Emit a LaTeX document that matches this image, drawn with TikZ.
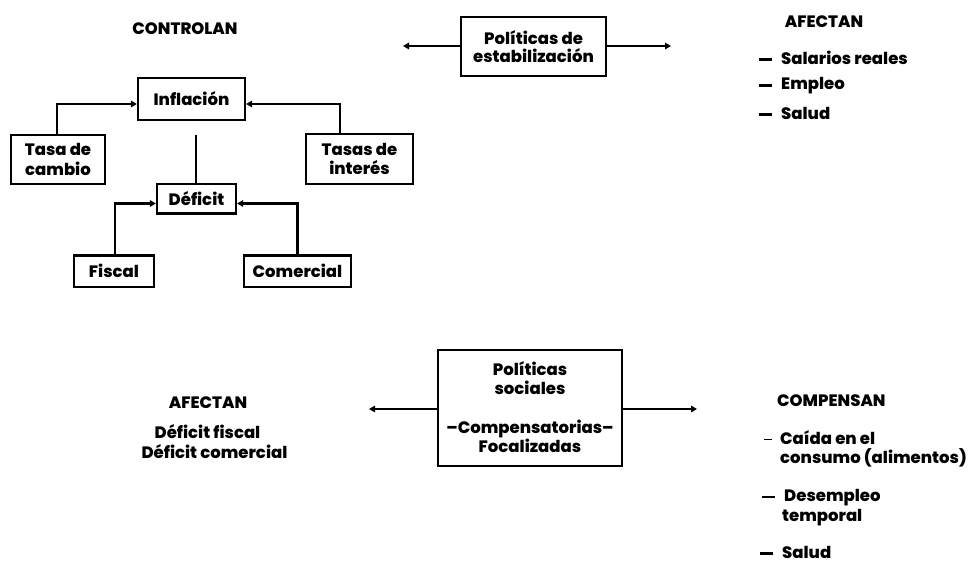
\documentclass[tikz,border=0pt]{standalone}
\usepackage{fontspec}
\setmainfont{Poppins}[BoldFont={Poppins ExtraBold}]
\usetikzlibrary{arrows.meta}
% list bullet: a short bar hung to the left of the item
\newcommand\barmark{\llap{\rule[3.3pt]{13pt}{2.6pt}\hspace{9pt}}}
\newcommand\thinmark{\llap{\rule[4pt]{8pt}{1pt}\hspace{8pt}}}
\begin{document}
\begin{tikzpicture}[x=1pt,y=-1pt,
  font=\bfseries\fontsize{16.5}{19.5}\selectfont,
  box/.style={draw,line width=2.2pt,inner sep=0pt,align=center},
  link/.style={line width=2.2pt,-{Triangle[length=6pt,width=6.5pt]}},
  plain/.style={line width=2.2pt},
  txt/.style={inner sep=0pt,anchor=west,align=left},
  word/.style={inner sep=0pt,align=center}]
\useasboundingbox (0,0) rectangle (971,562);

% upper left: what the stabilisation policies control
\node[word] (controlan) at (185,29) {CONTROLAN};
\node[box,minimum width=107pt,minimum height=42pt] (infl) at (191.5,99) {Inflación};
\node[box,minimum width=94pt,minimum height=49pt] (tcam) at (58,159.5) {Tasa de\\cambio};
\node[box,minimum width=107pt,minimum height=50pt] (tint) at (359.5,159) {Tasas de\\interés};
\node[box,minimum width=79pt,minimum height=29.5pt] (defi) at (196.5,198.75) {Déficit};
\node[box,minimum width=80pt,minimum height=31.5pt] (fisc) at (114,271.25) {Fiscal};
\node[box,minimum width=107pt,minimum height=31.5pt] (come) at (297.5,271.25) {Comercial};

\draw[link] ([xshift=-1pt]tcam.north) |- ([yshift=-5pt]infl.west);
\draw[link] ([xshift=-19.5pt]tint.north) |- ([yshift=-5pt]infl.east);
\coordinate (stem) at (196,134.5);
\draw[plain] (stem) -- (stem |- defi.north);
\draw[link] ([xshift=1pt]fisc.north) |- ([yshift=-4.75pt]defi.west);
\draw[link] (come.north) |- ([yshift=-4.75pt]defi.east);

% stabilisation policies
\node[box,minimum width=145pt,minimum height=59.5pt,font=\bfseries\fontsize{16.5}{18}\selectfont] (pest) at (533.5,46.6) {Políticas de\\estabilización};
\coordinate (pestL) at (403,46);
\coordinate (pestR) at (671,46);
\draw[link] (pest.west |- pestL) -- (pestL);
\draw[link] (pest.east |- pestR) -- (pestR);

% upper right list
\node[word] (afec1) at (824,21.5) {AFECTAN};
\node[txt] (sal) at (781,57.5) {\barmark Salarios reales};
\node[txt] (emp) at (781,86) {\barmark Empleo};
\node[txt] (sld) at (781,113) {\barmark Salud};

% social policies
\node[box,minimum width=184pt,minimum height=116pt] (psoc) at (530,408) {};
\node[word] (psocT) at (530,378) {Políticas\\sociales};
\node[word] (psocB) at (530,436.5) {--Compensatorias--\\Focalizadas};
\coordinate (psocL) at (369,409);
\coordinate (psocR) at (697,409);
\draw[link] (psoc.west |- psocL) -- (psocL);
\draw[link] (psoc.east |- psocR) -- (psocR);

% lower left
\node[word] (afec2) at (208,403) {AFECTAN};
\node[word] (dfis) at (207.5,431.6) {Déficit fiscal};
\node[word] (dcom) at (214.5,452) {Déficit comercial};

% lower right list
\node[txt] (comp) at (777,401) {COMPENSAN};
\node[txt] (cai) at (780,449) {\thinmark Caída en el\\consumo (alimentos)};
\node[txt] (des) at (782,507.5) {\hspace*{2pt}\barmark Desempleo\\temporal};
\node[txt] (sl2) at (782,552) {\barmark Salud};
\end{tikzpicture}
\end{document}
